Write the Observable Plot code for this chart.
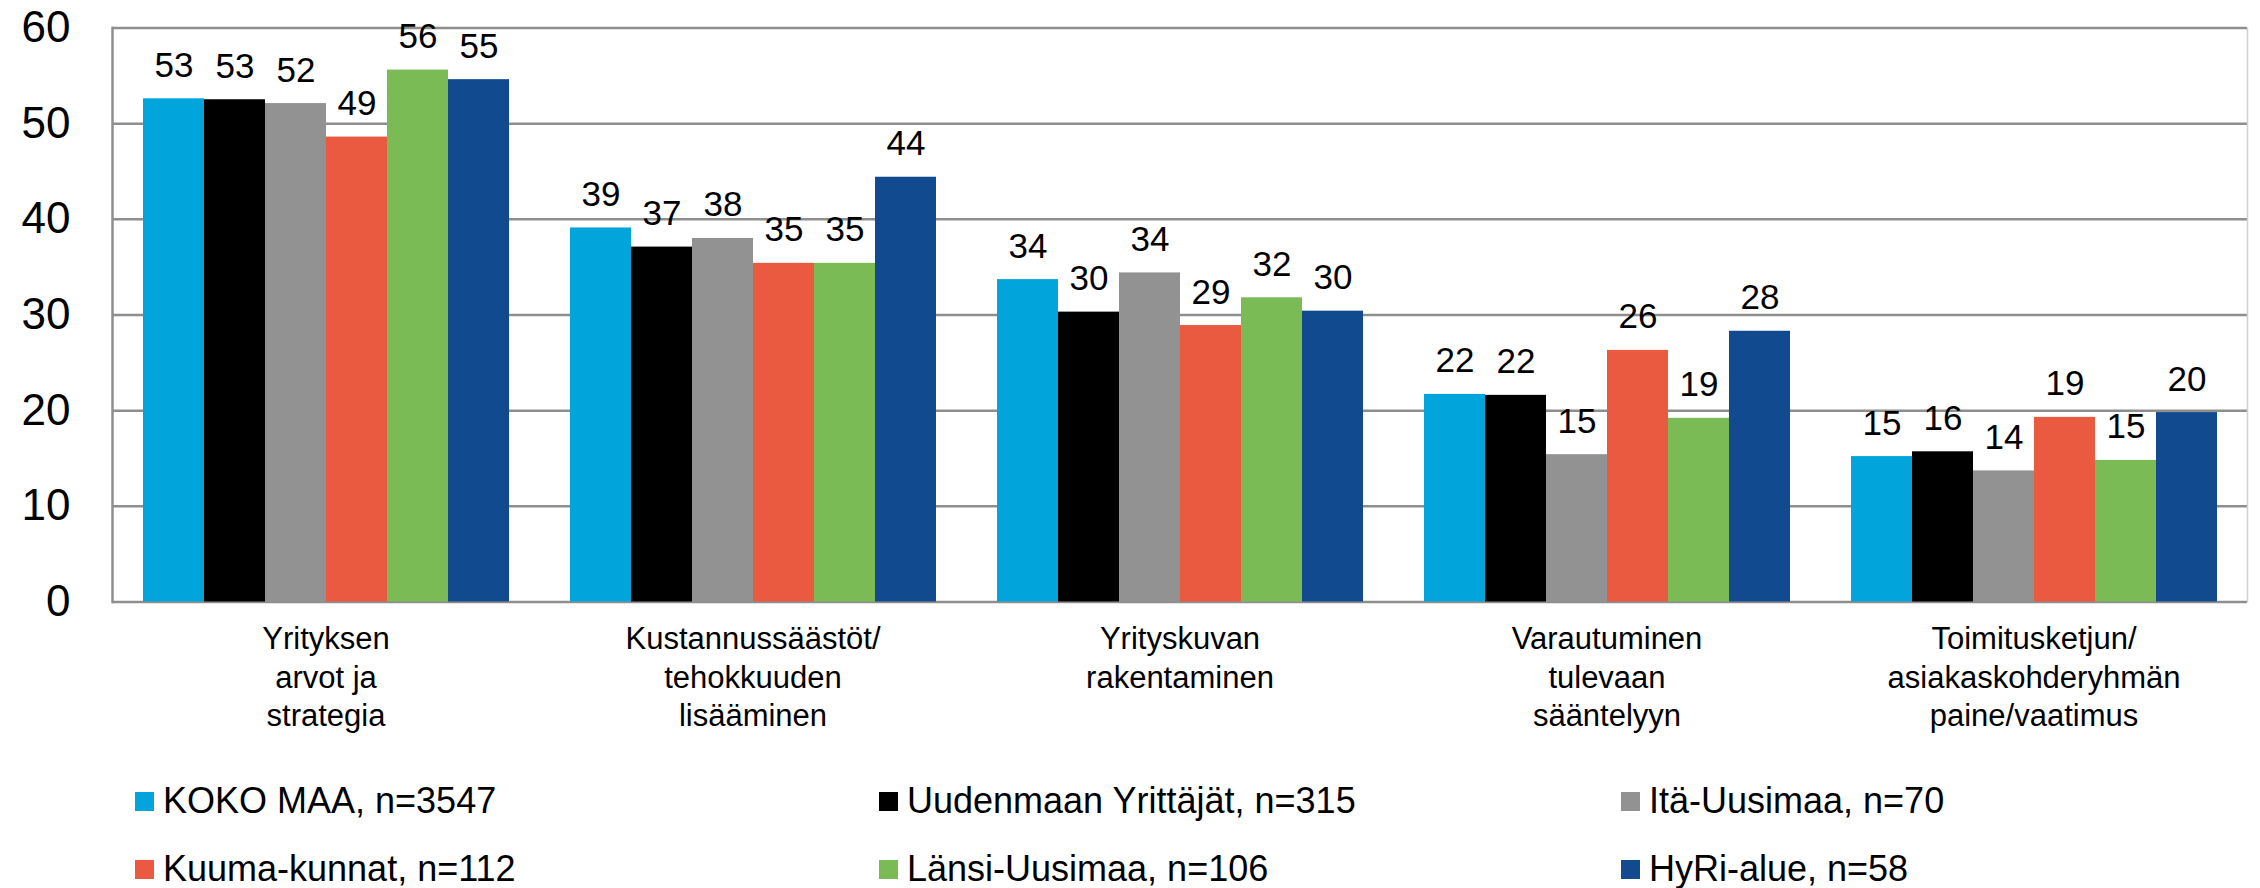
<!DOCTYPE html>
<html><head><meta charset="utf-8">
<script src="https://cdn.jsdelivr.net/npm/d3@7"></script>
<script src="https://cdn.jsdelivr.net/npm/@observablehq/plot@0.6"></script>
<style>
body{margin:0;background:#fff;font-family:"Liberation Sans",Arial,sans-serif;}
#wrap{position:relative;width:2260px;height:888px;overflow:hidden;}
#chart{position:absolute;left:0;top:0;}
.leg{position:absolute;display:flex;align-items:center;font-size:36px;line-height:40px;height:40px;color:#000;white-space:nowrap;}
.sw{width:19px;height:19px;margin-right:9px;flex:none;}
</style></head><body><div id="wrap"><div id="chart"></div></div>
<script>
const categories = [
  "Yrityksen\narvot ja\nstrategia",
  "Kustannussäästöt/\ntehokkuuden\nlisääminen",
  "Yrityskuvan\nrakentaminen",
  "Varautuminen\ntulevaan\nsääntelyyn",
  "Toimitusketjun/\nasiakaskohderyhmän\npaine/vaatimus"
];
const series = [
  "KOKO MAA, n=3547",
  "Uudenmaan Yrittäjät, n=315",
  "Itä-Uusimaa, n=70",
  "Kuuma-kunnat, n=112",
  "Länsi-Uusimaa, n=106",
  "HyRi-alue, n=58"
];
const colors = ["#02A5DB", "#000000", "#929292", "#E95A41", "#7ABB55", "#114A8E"];

const kokoMaa     = [52.6, 39.1, 33.7, 21.7, 15.2];
const uudenmaan   = [52.5, 37.1, 30.3, 21.6, 15.7];
const itaUusimaa  = [52.1, 38.0, 34.4, 15.4, 13.7];
const kuumaKunnat = [48.6, 35.4, 28.9, 26.3, 19.3];
const lansiUusimaa= [55.6, 35.4, 31.8, 19.2, 14.8];
const hyriAlue    = [54.6, 44.4, 30.4, 28.3, 19.8];
const yTicks = [0, 10, 20, 30, 40, 50, 60];

const values = [kokoMaa, uudenmaan, itaUusimaa, kuumaKunnat, lansiUusimaa, hyriAlue];
const data = [];
categories.forEach((c, ci) => series.forEach((s, si) => data.push({cat: c, series: s, value: values[si][ci]})));

const font = '"Liberation Sans", Arial, sans-serif';
const chart = Plot.plot({
  width: 2260,
  height: 760,
  marginTop: 27.5,
  marginBottom: 158.5,
  marginLeft: 111,
  marginRight: 12,
  style: {fontFamily: font, color: "#000", background: "#fff", overflow: "visible"},
  fx: {domain: categories, paddingInner: 0, paddingOuter: 0, label: null},
  x: {domain: series, paddingInner: 0, paddingOuter: 0.5, axis: null},
  y: {domain: [0, 60], axis: null},
  color: {domain: series, range: colors},
  marks: [
    Plot.gridY(yTicks, {stroke: "#8e8e8e", strokeOpacity: 1, strokeWidth: 2.5}),
    Plot.barY(data, {fx: "cat", x: "series", y: "value", fill: "series"}),
    Plot.text(data, {fx: "cat", x: "series", y: "value", text: d => String(Math.round(d.value)),
      lineAnchor: "bottom", dy: -22, fontSize: 35, fill: "#000"}),
    Plot.axisY(yTicks, {tickSize: 0, tickPadding: 42, fontSize: 44, label: null}),
    Plot.axisFx({anchor: "bottom", tickSize: 0, tickPadding: 19, fontSize: 31, lineHeight: 1.255, label: null}),
    Plot.frame({anchor: "left", facetAnchor: "left", stroke: "#8e8e8e", strokeWidth: 2.5}),
    Plot.frame({anchor: "right", facetAnchor: "right", stroke: "#d0d0d0", strokeWidth: 1.5})
  ]
});
document.getElementById("chart").appendChild(chart);

const legX = [135, 879, 1621];
const legY = [781, 849];
const wrap = document.getElementById("wrap");
series.forEach((s, i) => {
  const el = document.createElement("div");
  el.className = "leg";
  el.style.left = legX[i % 3] + "px";
  el.style.top = legY[Math.floor(i / 3)] + "px";
  const sw = document.createElement("span");
  sw.className = "sw";
  sw.style.background = colors[i];
  const tx = document.createElement("span");
  tx.textContent = s;
  el.appendChild(sw);
  el.appendChild(tx);
  wrap.appendChild(el);
});
</script>
</body></html>
